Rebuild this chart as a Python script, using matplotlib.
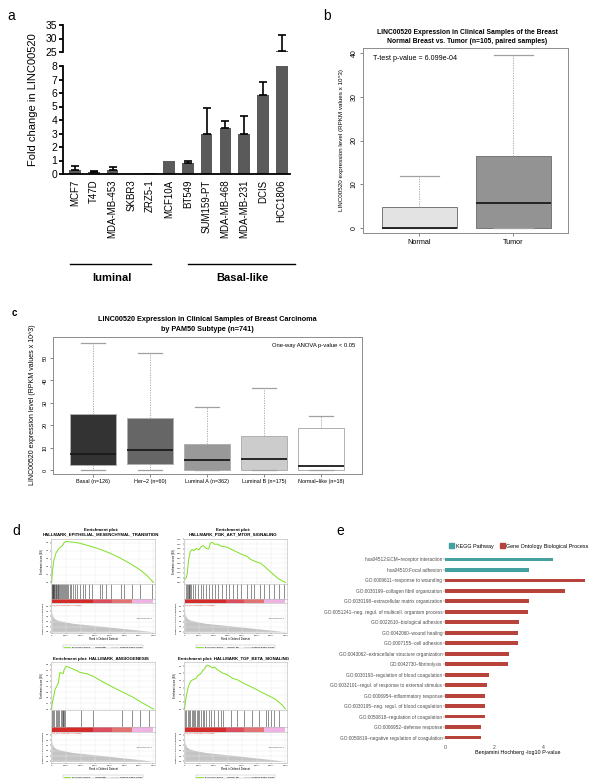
import matplotlib
matplotlib.use("Agg")
import matplotlib.pyplot as plt
from matplotlib.lines import Line2D
from matplotlib.patches import Patch
import numpy as np

plt.rcParams['font.family'] = ['Liberation Sans', 'DejaVu Sans']

# ---------------- data ----------------
# a: qPCR fold change
cell_lines = ['MCF7', 'T47D', 'MDA-MB-453', 'SKBR3', 'ZRZ5-1', 'MCF10A', 'BT549',
              'SUM159-PT', 'MDA-MB-468', 'MDA-MB-231', 'DCIS', 'HCC1806']
fold_change = [0.3, 0.15, 0.3, 0.0, 0.05, 1.0, 0.8, 2.95, 3.4, 3.0, 5.85, 25.5]
fold_err = [0.3, 0.1, 0.25, 0.0, 0.0, 0.0, 0.2, 1.95, 0.5, 1.3, 1.0, 5.7]

# b: normal vs tumor boxplot stats
b_groups = ['Normal', 'Tumor']
b_q1 = [0.0, 0.0]
b_med = [0.0, 5.8]
b_q3 = [4.9, 16.4]
b_lo = [0.0, 0.0]
b_hi = [11.8, 39.6]
b_colors = ['#e3e3e3', '#939393']

# c: PAM50 subtypes
c_groups = ['Basal (n=126)', 'Her\u22122 (n=60)', 'Luminal A (n=362)',
            'Luminal B (n=175)', 'Normal\u2212like (n=18)']
c_q1 = [2.1, 2.6, 0.0, 0.0, 0.0]
c_med = [7.3, 8.7, 4.3, 4.9, 1.6]
c_q3 = [25.0, 23.4, 11.4, 15.0, 18.6]
c_lo = [0.0, 0.0, 0.0, 0.0, 0.0]
c_hi = [56.8, 52.1, 28.0, 36.4, 24.0]
c_colors = ['#333333', '#666666', '#999999', '#cccccc', '#ffffff']

# d: GSEA running enrichment scores
emt_rank = [0, 70, 160, 300, 460, 620, 760, 870, 990, 1260, 1490, 1950, 2640, 3330,
            4020, 4700, 5390, 6080, 6540, 7000]
emt_es = [0.0, 0.16, 0.28, 0.37, 0.42, 0.45, 0.47, 0.505, 0.52, 0.513, 0.51, 0.496,
          0.46, 0.42, 0.37, 0.31, 0.24, 0.16, 0.09, 0.0]
emt_hits = [10, 40, 70, 100, 130, 160, 200, 240, 280, 320, 370, 420, 470, 520, 580, 640,
            700, 760, 830, 900, 980, 1060, 1150, 1250, 1330, 1500, 1630, 1720, 1950, 2180,
            2300, 2550, 2750, 3300, 3450, 3750, 4100, 4750, 4950, 5500, 6100, 6900]

pi3k_rank = [0, 115, 184, 275, 390, 528, 643, 803, 987, 1148, 1308, 1492, 1675, 1790,
             1905, 2066, 2295, 2525, 2754, 2984, 3328, 3672, 4016, 4361, 4590, 4934,
             5279, 5623, 6082, 6541, 7000]
pi3k_es = [0.03, 0.05, 0.094, 0.23, 0.32, 0.345, 0.33, 0.356, 0.34, 0.374, 0.385, 0.356,
           0.35, 0.41, 0.42, 0.40, 0.40, 0.38, 0.374, 0.367, 0.34, 0.315, 0.29, 0.27,
           0.24, 0.217, 0.2, 0.157, 0.094, 0.035, 0.0]
pi3k_hits = [70, 160, 250, 300, 340, 390, 460, 570, 690, 920, 1150, 1310, 1490, 1720,
             1900, 2140, 2300, 2590, 2870, 3100, 3330, 3670, 3900, 4360, 4590, 4820,
             5210, 5510, 5850, 6200, 6540, 6890]

ang_rank = [0, 46, 115, 230, 344, 459, 574, 689, 803, 849, 987, 1148, 1492, 1836, 1951,
            2180, 2410, 2869, 3557, 4246, 4934, 5623, 6311, 7000]
ang_es = [0.0, 0.10, 0.19, 0.345, 0.41, 0.47, 0.66, 0.65, 0.64, 0.70, 0.77, 0.76, 0.72,
          0.68, 0.66, 0.65, 0.64, 0.59, 0.485, 0.39, 0.30, 0.21, 0.10, 0.0]
ang_hits = [46, 115, 184, 275, 344, 459, 528, 620, 689, 757, 803, 849, 918, 1997, 2869,
            4820, 5508, 6082, 6701]

tgf_rank = [0, 46, 115, 230, 344, 459, 574, 689, 803, 918, 1033, 1148, 1262, 1377, 1492,
            1607, 1836, 1951, 2066, 2295, 2639, 2984, 3328, 3672, 4016, 4475, 4934,
            5393, 5852, 6311, 6770, 7000]
tgf_es = [0.0, 0.08, 0.175, 0.29, 0.36, 0.40, 0.41, 0.42, 0.43, 0.47, 0.48, 0.505, 0.54,
          0.56, 0.60, 0.615, 0.59, 0.575, 0.59, 0.55, 0.505, 0.48, 0.43, 0.41, 0.37,
          0.325, 0.28, 0.23, 0.185, 0.137, 0.057, 0.0]
tgf_hits = [46, 115, 207, 298, 390, 482, 574, 666, 757, 849, 941, 1033, 1148, 1262, 1377,
            1492, 1675, 1836, 2066, 2295, 2525, 2639, 3213, 3672, 4131, 4705, 5164, 5623,
            5784, 5967, 6197, 6541]

# shared ranked list metric
metric_rank = [0, 69, 161, 344, 803, 1492, 2639, 3787, 4934, 6082, 7000]
metric_val = [1.9, 1.57, 1.33, 1.17, 1.0, 0.83, 0.67, 0.5, 0.33, 0.17, 0.0]
bar_bounds = [0, 2870, 4130, 5510, 7000]
bar_colors = ['#d42a2a', '#dc4e5e', '#e37373', '#efb3e3']

# e: enrichment terms
e_terms = ['hsa04512:ECM\u2212receptor interaction', 'hsa04510:Focal adhesion',
           'GO:0009611~response to wounding', 'GO:0030199~collagen fibril organization',
           'GO:0030198~extracellular matrix organization',
           'GO:0051241~neg. regul. of multicell. organism process',
           'GO:0022610~biological adhesion', 'GO:0042060~wound healing',
           'GO:0007155~cell adhesion', 'GO:0043062~extracellular structure organization',
           'GO:0042730~fibrinolysis', 'GO:0030193~regulation of blood coagulation',
           'GO:0032101~regul. of response to external stimulus',
           'GO:0006954~inflammatory response', 'GO:0030195~neg. regul. of blood coagulation',
           'GO:0050818~regulation of coagulation', 'GO:0006952~defense response',
           'GO:0050819~negative regulation of coagulation']
e_values = [4.41, 3.43, 5.71, 4.90, 3.41, 3.39, 3.02, 2.98, 2.97, 2.59, 2.56, 1.78, 1.70,
            1.63, 1.61, 1.61, 1.47, 1.46]
e_source = ['KEGG', 'KEGG'] + ['GO'] * 16
e_colors = {'KEGG': '#45a0a0', 'GO': '#b8423c'}

# ---------------- figure ----------------
W, H = 600, 781
fig = plt.figure(figsize=(6, 7.81), dpi=100)


def add_ax(l, t, r, b):
    return fig.add_axes([l / W, 1 - b / H, (r - l) / W, (b - t) / H])


def ftext(x, y, s, **kw):
    return fig.text(x / W, 1 - y / H, s, **kw)


# panel labels
ftext(7, 16, 'a', fontsize=10, va='center')
ftext(323, 16, 'b', fontsize=10, va='center')
ftext(12, 313, 'c', fontsize=7, fontweight='bold', va='center')
ftext(12, 531, 'd', fontsize=10, va='center')
ftext(336, 531, 'e', fontsize=10, va='center')

# ---- a ----
x = np.arange(len(cell_lines))
fc = np.array(fold_change)
fe = np.array(fold_err)
has_err = fe > 0
ax_lo = add_ax(63, 66, 290, 174)
ax_hi = add_ax(63, 25, 290, 52)
for ax in (ax_lo, ax_hi):
    ax.bar(x, fc, width=0.62, color='#5a5a5a', zorder=2)
    ax.errorbar(x[has_err], fc[has_err], yerr=[np.zeros(has_err.sum()), fe[has_err]],
                fmt='none', ecolor='black', elinewidth=1.2, capsize=2.6, capthick=1.2,
                zorder=3)
    ax.set_xlim(-0.64, 11.44)
    ax.spines['top'].set_visible(False)
    ax.spines['right'].set_visible(False)
    ax.spines['left'].set_linewidth(1.3)
    ax.tick_params(axis='y', width=1.3, length=3, labelsize=7.5, pad=1)
ax_lo.set_ylim(0, 8)
ax_lo.set_yticks(range(0, 9))
ax_hi.set_ylim(25, 35)
ax_hi.set_yticks([25, 30, 35])
ax_hi.spines['bottom'].set_visible(False)
ax_hi.set_xticks([])
ax_lo.set_xticks(x)
ax_lo.set_xticklabels(cell_lines, rotation=90, fontsize=7)
ax_lo.tick_params(axis='x', length=0, pad=4)
ax_lo.spines['bottom'].set_linewidth(1.3)
ftext(33, 100, 'Fold change in LINC00520', rotation=90, ha='center', va='center', fontsize=8)
fig.add_artist(Line2D([70 / W, 151 / W], [1 - 264 / H] * 2, color='k', lw=1))
fig.add_artist(Line2D([188 / W, 295 / W], [1 - 264 / H] * 2, color='k', lw=1))
ftext(112, 278, 'luminal', ha='center', va='center', fontsize=8, fontweight='bold')
ftext(242, 278, 'Basal-like', ha='center', va='center', fontsize=8, fontweight='bold')


# ---- boxplots b / c ----
def r_boxplot(ax, labels, q1, med, q3, lo, hi, colors, edge):
    stats = [dict(med=m, q1=a, q3=b, whislo=l, whishi=h, label=n)
             for n, a, m, b, l, h in zip(labels, q1, med, q3, lo, hi)]
    bp = ax.bxp(stats, positions=range(1, len(stats) + 1), widths=0.8, capwidths=0.42,
                patch_artist=True, showfliers=False,
                boxprops=dict(edgecolor=edge, lw=0.7),
                whiskerprops=dict(color='#a0a0a0', lw=0.6, ls=(0, (1.5, 1.5))),
                capprops=dict(color='#a0a0a0', lw=0.9),
                medianprops=dict(color='#1a1a1a', lw=1.3))
    for patch, c in zip(bp['boxes'], colors):
        patch.set_facecolor(c)
    for s in ax.spines.values():
        s.set_color('#8c8c8c')
        s.set_linewidth(0.7)


ax_b = add_ax(363, 48, 568, 233)
r_boxplot(ax_b, b_groups, b_q1, b_med, b_q3, b_lo, b_hi, b_colors, '#777777')
ax_b.set_xlim(0.4, 2.58)
ax_b.set_ylim(-1.14, 41.14)
ax_b.set_yticks(range(0, 41, 10))
ax_b.tick_params(axis='y', labelrotation=90, labelsize=5, length=2.5, width=0.5,
                 color='#555555', pad=1.5)
ax_b.tick_params(axis='x', labelsize=5.2, length=2.5, width=0.5, color='#555555', pad=1.5)
for lab in ax_b.get_yticklabels():
    lab.set_va('center')
ftext(467, 37, 'LINC00520 Expression in Clinical Samples of the Breast\n'
      'Normal Breast vs. Tumor (n=105, paired samples)',
      ha='center', va='center', fontsize=4.9, fontweight='bold', linespacing=1.35)
ftext(373, 58, 'T-test p-value = 6.099e-04', ha='left', va='center', fontsize=5.1)
ftext(342, 140, 'LINC00520 expression level (RPKM values x 10^3)', rotation=90,
      ha='center', va='center', fontsize=4.5)

ax_c = add_ax(53, 337, 362, 474)
r_boxplot(ax_c, c_groups, c_q1, c_med, c_q3, c_lo, c_hi, c_colors, '#b0b0b0')
ax_c.set_xlim(0.3, 5.72)
ax_c.set_ylim(-1.8, 59.4)
ax_c.set_yticks(range(0, 51, 10))
ax_c.tick_params(axis='y', labelrotation=90, labelsize=4, length=2.2, width=0.5,
                 color='#555555', pad=1.5)
ax_c.tick_params(axis='x', labelsize=3.9, length=2.2, width=0.5, color='#555555', pad=1.5)
for lab in ax_c.get_yticklabels():
    lab.set_va('center')
ftext(207, 324.5, 'LINC00520 Expression in Clinical Samples of Breast Carcinoma\n'
      'by PAM50 Subtype (n=741)',
      ha='center', va='center', fontsize=5.2, fontweight='bold', linespacing=1.45)
ftext(355, 346, 'One-way ANOVA p-value < 0.05', ha='right', va='center', fontsize=4.2)
ftext(33, 405, 'LINC00520 expression level (RPKM values x 10^3)', rotation=90,
      ha='center', va='center', fontsize=5)


# ---- d: GSEA enrichment plots ----
def gsea(l, r, y_title, t_es, b_es, b_hit, b_bar, b_met, title, ranks, es, hits,
         ylim, yticks, yfmt):
    xl = (-40, 7110)
    grey = '#b5b5b5'
    ftext((l + r) / 2 - 2, y_title, title, ha='center', va='center', fontsize=3.2,
          fontweight='bold', linespacing=1.1)
    a1 = add_ax(l, t_es, r, b_es)
    a1.plot(ranks, es, color='#7ee021', lw=0.7)
    a1.set_xlim(xl)
    a1.set_ylim(ylim)
    a1.set_xticks(range(0, 7001, 1000))
    a1.set_xticklabels([])
    a1.set_yticks(yticks)
    a1.set_yticklabels([yfmt % v for v in yticks])
    a1.grid(color='#e8e8e8', lw=0.3)
    a1.set_ylabel('Enrichment score (ES)', fontsize=1.8, labelpad=1)

    a2 = add_ax(l, b_es, r, b_hit)
    a2.vlines(hits, 0, 1, color='#3a3a3a', lw=0.4)
    a2.set_xlim(xl)
    a2.set_ylim(0, 1)
    a2.set_xticks([])
    a2.set_yticks([])

    a3 = add_ax(l, b_hit, r, b_bar)
    for lo, hi, c in zip(bar_bounds[:-1], bar_bounds[1:], bar_colors):
        a3.axvspan(lo, hi, color=c, lw=0)
    a3.set_xlim(xl)
    a3.set_xticks([])
    a3.set_yticks([])

    a4 = add_ax(l, b_bar, r, b_met)
    a4.fill_between(metric_rank, 0, metric_val, color='#c4c4c4', lw=0)
    a4.set_xlim(xl)
    a4.set_ylim(-0.1, 2.8)
    a4.set_yticks([0, 0.5, 1.0, 1.5, 2.0, 2.5])
    a4.set_xticks(range(0, 7001, 1000))
    a4.set_xticklabels(['0', '1,000', '2,000', '3,000', '4,000', '5,000', '6,000', '7,000'])
    a4.grid(color='#e8e8e8', lw=0.3)
    a4.set_xlabel('Rank in Ordered Dataset', fontsize=1.9, labelpad=0.6)
    a4.set_ylabel('Ranked list metric (PreRanked)', fontsize=1.6, labelpad=1)
    a4.text(0.01, 0.97, "'na_pos' (positively correlated)", transform=a4.transAxes,
            color='#e02020', fontsize=1.6, va='top')
    a4.text(0.97, 0.5, 'Zero cross at 7', transform=a4.transAxes, fontsize=1.6,
            ha='right', va='center')
    handles = [Line2D([], [], color='#7ee021', lw=0.6), Line2D([], [], color='#555', lw=0.4),
               Line2D([], [], color='#ccc', lw=0.6)]
    a4.legend(handles, ['Enrichment profile', 'Hits', 'Ranking metric scores'],
              loc='center', bbox_to_anchor=(0.5, -0.46), ncol=3, fontsize=1.6,
              frameon=True, fancybox=False, edgecolor='#999', handlelength=3,
              borderpad=0.3, columnspacing=2).get_frame().set_linewidth(0.3)
    for a in (a1, a2, a3, a4):
        a.tick_params(labelsize=1.6, length=1, width=0.3, pad=0.6)
        for s in a.spines.values():
            s.set_color(grey)
            s.set_linewidth(0.4)


gsea(51, 155, 532.5, 539, 584, 599, 603, 633,
     'Enrichment plot:\nHALLMARK_EPITHELIAL_MESENCHYMAL_TRANSITION',
     emt_rank, emt_es, emt_hits, (-0.02, 0.55), [0, 0.1, 0.2, 0.3, 0.4, 0.5], '%.1f')
gsea(184, 287, 532.5, 539, 584, 599, 603, 633,
     'Enrichment plot:\nHALLMARK_PI3K_AKT_MTOR_SIGNALING',
     pi3k_rank, pi3k_es, pi3k_hits, (-0.017, 0.454),
     [0, 0.05, 0.1, 0.15, 0.2, 0.25, 0.3, 0.35, 0.4, 0.45], '%.2f')
gsea(51, 155, 659, 662, 710, 727, 731.5, 762.5,
     'Enrichment plot: HALLMARK_ANGIOGENESIS',
     ang_rank, ang_es, ang_hits, (-0.018, 0.85),
     [0, 0.1, 0.2, 0.3, 0.4, 0.5, 0.6, 0.7, 0.8], '%.1f')
gsea(184, 287, 659, 662, 710, 727, 731.5, 762.5,
     'Enrichment plot: HALLMARK_TGF_BETA_SIGNALING',
     tgf_rank, tgf_es, tgf_hits, (-0.014, 0.66),
     [0, 0.1, 0.2, 0.3, 0.4, 0.5, 0.6], '%.1f')

# ---- e ----
ax_e = add_ax(445, 553, 591, 744)
ypos = np.arange(len(e_terms))
ax_e.barh(ypos, e_values, height=0.34, color=[e_colors[s] for s in e_source])
ax_e.set_ylim(len(e_terms) - 0.4, -0.6)
ax_e.set_xlim(0, 5.95)
ax_e.set_yticks(ypos)
ax_e.set_yticklabels(e_terms)
ax_e.set_xticks([0, 2, 4])
ax_e.tick_params(axis='y', labelsize=3.4, labelcolor='#4d4d4d', color='#4d4d4d',
                 length=1.5, width=0.3, pad=0.5)
ax_e.tick_params(axis='x', labelsize=3.7, labelcolor='#4d4d4d', length=0, pad=1)
for s in ax_e.spines.values():
    s.set_visible(False)
ax_e.set_xlabel('Benjamini Hochberg -log10 P-value', fontsize=3.9, labelpad=0)
ax_e.legend([Patch(color=e_colors['KEGG']), Patch(color=e_colors['GO'])],
            ['KEGG Pathway', 'Gene Ontology Biological Process'],
            loc='center', bbox_to_anchor=(519 / W, 1 - 546 / H),
            bbox_transform=fig.transFigure, ncol=2, frameon=False, fontsize=3.9,
            handlelength=0.9, handleheight=0.9, handletextpad=0.3, columnspacing=1.2)

fig.savefig('out.png', dpi=100)
